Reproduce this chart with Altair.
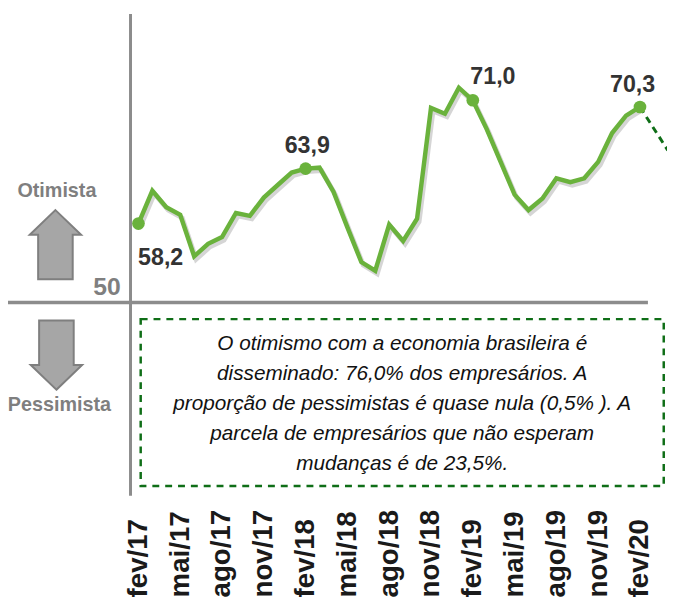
import json
import altair as alt
import pandas as pd

# ---- data ----
months = ["fev/17", "mar/17", "abr/17", "mai/17", "jun/17", "jul/17", "ago/17", "set/17",
          "out/17", "nov/17", "dez/17", "jan/18", "fev/18", "mar/18", "abr/18", "mai/18",
          "jun/18", "jul/18", "ago/18", "set/18", "out/18", "nov/18", "dez/18", "jan/19",
          "fev/19", "mar/19", "abr/19", "mai/19", "jun/19", "jul/19", "ago/19", "set/19",
          "out/19", "nov/19", "dez/19", "jan/20", "fev/20"]
values = [58.2, 61.6, 59.9, 59.1, 54.8, 56.1, 56.8, 59.3,
          59.0, 60.9, 62.2, 63.5, 63.9, 64.0, 61.5, 57.8,
          54.2, 53.3, 58.1, 56.4, 58.7, 70.2, 69.6, 72.3,
          71.0, 68.0, 64.6, 61.2, 59.6, 60.8, 62.9, 62.5,
          62.9, 64.6, 67.6, 69.4, 70.3]
proj_months = ["fev/20", "abr/20"]
proj_values = [70.3, 65.8]
tick_labels = ["fev/17", "mai/17", "ago/17", "nov/17", "fev/18", "mai/18", "ago/18",
               "nov/18", "fev/19", "mai/19", "ago/19", "nov/19", "fev/20"]
highlight = ["fev/17", "fev/18", "fev/19", "fev/20"]
highlight_text = ["58,2", "63,9", "71,0", "70,3"]
box_lines = ["O otimismo com a economia brasileira é",
             "disseminado: 76,0% dos empresários. A",
             "proporção de pessimistas é quase nula (0,5% ). A",
             "parcela de empresários que não esperam",
             "mudanças é de 23,5%."]

all_months = months + ["mar/20", "abr/20"]
idx = {m: i for i, m in enumerate(all_months)}

df = pd.DataFrame({"m": months, "i": [idx[m] for m in months], "v": values})
dproj = pd.DataFrame({"m": proj_months, "i": [idx[m] for m in proj_months], "v": proj_values})
dhi = df[df["m"].isin(highlight)].copy()
dhi["t"] = highlight_text

FONT = "Liberation Sans"
GREEN = "#6ab23c"
DKGREEN = "#0f6e17"
GREY = "#8c8c8c"

xs = alt.Scale(domain=[-0.603, 37.94], nice=False, zero=False)
ys = alt.Scale(domain=[30, 80], nice=False, zero=False)

label_expr = json.dumps(tick_labels) + "[round(datum.value/3)]"
X = alt.X("i:Q", scale=xs,
          axis=alt.Axis(values=list(range(0, 37, 3)), labelExpr=label_expr, title=None,
                        domain=False, ticks=False, grid=False, labelAngle=270,
                        labelAlign="left", labelBaseline="middle", labelPadding=103,
                        labelFont=FONT, labelFontSize=28, labelFontWeight="bold",
                        labelColor="#1a1a1a", labelOverlap=False, labelBound=False,
                        labelFlush=False))
Y = alt.Y("v:Q", scale=ys,
          axis=alt.Axis(values=[50], title=None, ticks=False, grid=False,
                        domainColor=GREY, domainWidth=3, labelPadding=10,
                        labelOffset=-8.5, labelBaseline="alphabetic",
                        labelFont=FONT, labelFontSize=25, labelFontWeight="bold",
                        labelColor="#7f7f7f"))

base = alt.Chart(df)

# horizontal 50 line
rule50 = alt.Chart(pd.DataFrame({"v": [50]})).mark_rule(color=GREY, strokeWidth=3.5).encode(
    y=alt.Y("v:Q", scale=ys), x=alt.value(-123.5), x2=alt.value(524.2))

# dashed note box
box = alt.Chart(pd.DataFrame({"a": [0]})).mark_rect(
    fill="white", fillOpacity=0, stroke=DKGREEN, strokeWidth=2.5, strokeDash=[7, 6]).encode(
    x=alt.value(10.8), x2=alt.value(540.2), y=alt.value(309.3), y2=alt.value(478.3))

box_text = alt.Chart(pd.DataFrame({"a": [0]})).mark_text(
    font=FONT, fontSize=21, fontStyle="italic", color="#111111",
    align="center", baseline="alphabetic", lineHeight=30.3).encode(
    x=alt.value(275.5), y=alt.value(340.5), text=alt.value(box_lines))

up_path = "M0,-1L0.743,-0.286L0.5,-0.286L0.5,1L-0.5,1L-0.5,-0.286L-0.743,-0.286Z"
down_path = "M0,1L0.743,0.286L0.5,0.286L0.5,-1L-0.5,-1L-0.5,0.286L-0.743,0.286Z"
up = alt.Chart(pd.DataFrame({"a": [0]})).mark_point(
    shape=up_path, filled=True, fill="#a6a6a6", stroke="#7f7f7f", strokeWidth=2,
    size=4900, opacity=1).encode(x=alt.value(-75.5), y=alt.value(234))
down = alt.Chart(pd.DataFrame({"a": [0]})).mark_point(
    shape=down_path, filled=True, fill="#a6a6a6", stroke="#7f7f7f", strokeWidth=2,
    size=4900, opacity=1).encode(x=alt.value(-74.5), y=alt.value(345.7))

otim = alt.Chart(pd.DataFrame({"a": [0]})).mark_text(
    font=FONT, fontSize=20, fontWeight="bold", color="#7f7f7f", baseline="middle").encode(
    x=alt.value(-74), y=alt.value(180), text=alt.value("Otimista"))
pess = alt.Chart(pd.DataFrame({"a": [0]})).mark_text(
    font=FONT, fontSize=20, fontWeight="bold", color="#7f7f7f", baseline="middle").encode(
    x=alt.value(-71.5), y=alt.value(396), text=alt.value("Pessimista"))

shadow = base.mark_line(color="#888888", opacity=0.35, strokeWidth=5, xOffset=2, yOffset=3).encode(x=X, y=Y)
line = base.mark_line(color=GREEN, strokeWidth=4.5).encode(x=X, y=Y)
proj = alt.Chart(dproj).mark_line(color=DKGREEN, strokeWidth=3, strokeDash=[7, 5], clip=True).encode(x=X, y=Y)
pts = alt.Chart(dhi).mark_circle(color=GREEN, size=165, opacity=1).encode(x=X, y=Y)

offsets = [(22.5, 41.7), (1.7, -16), (20.4, -16.6), (-7.5, -15)]
labels = []
for (m, t), (dx, dy) in zip(zip(highlight, highlight_text), offsets):
    labels.append(alt.Chart(dhi[dhi["m"] == m]).mark_text(
        font=FONT, fontSize=23.5, fontWeight="bold", color="#333333",
        align="center", baseline="alphabetic", dx=dx, dy=dy).encode(
        x=X, y=Y, text="t:N"))

chart = alt.layer(rule50, box, box_text, up, down, otim, pess, shadow, line, proj, pts, *labels).properties(
    width=543.5, height=487.5,
    padding={"left": 123.5, "top": 2, "right": 0, "bottom": 105.5},
    autosize="none", background="white"
).configure_view(stroke=None)

chart.save("out.html", embed_options={"renderer": "svg", "actions": False})
